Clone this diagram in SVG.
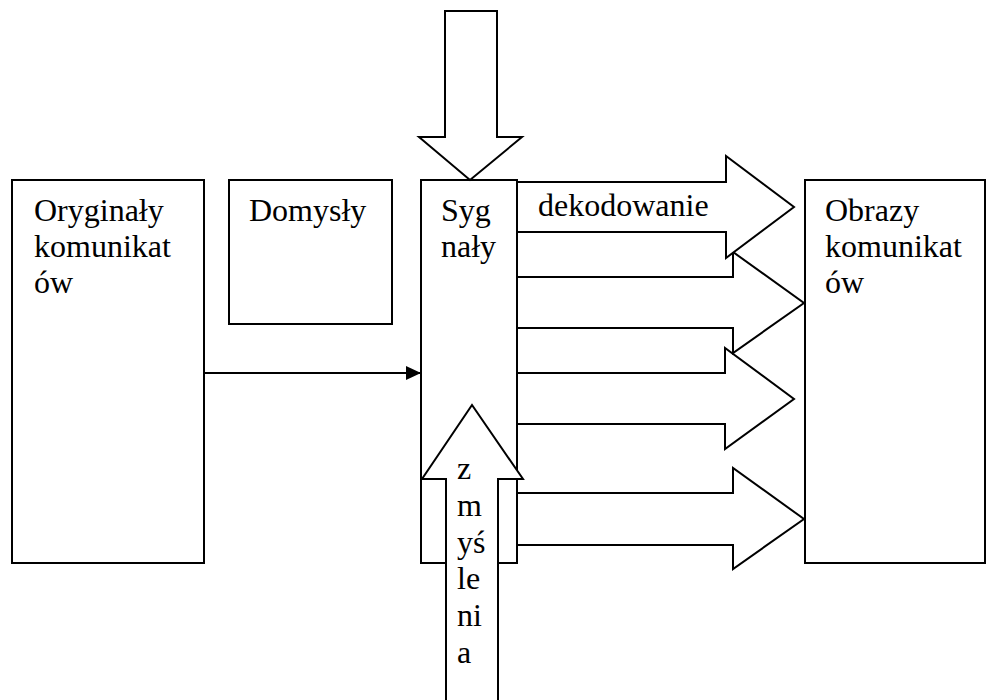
<svg xmlns="http://www.w3.org/2000/svg" width="986" height="700" viewBox="0 0 986 700">
<style>
.b{fill:#fff;stroke:#000;stroke-width:2}
.t{font-family:"Liberation Serif","Times New Roman",serif;font-size:32px;fill:#000}
</style>
<defs>
<marker id="ah" markerWidth="15" markerHeight="14" refX="15" refY="7" orient="auto" markerUnits="userSpaceOnUse">
<path d="M0,0 L15,7 L0,14 Z" fill="#000"/>
</marker>
</defs>
<rect width="986" height="700" fill="#fff"/>
<g id="oryginaly">
<rect class="b" x="12" y="180" width="192" height="383"/>
<text class="t" x="34" y="221">Oryginały</text>
<text class="t" x="34" y="257">komunikat</text>
<text class="t" x="34" y="293">ów</text>
</g>
<g id="domysly">
<rect class="b" x="229" y="180" width="163" height="144"/>
<text class="t" x="249" y="221">Domysły</text>
</g>
<g id="obrazy">
<rect class="b" x="805" y="180" width="180" height="383"/>
<text class="t" x="825" y="221">Obrazy</text>
<text class="t" x="825" y="257">komunikat</text>
<text class="t" x="825" y="293">ów</text>
</g>
<g id="sygnaly">
<rect class="b" x="421" y="180" width="96" height="383"/>
<text class="t" x="441" y="221">Syg</text>
<text class="t" x="441" y="257">nały</text>
</g>
<g id="connectors">
<line x1="204" y1="373" x2="421" y2="373" stroke="#000" stroke-width="2" marker-end="url(#ah)"/>
<polygon id="top-arrow" class="b" points="445,11 497,11 497,137 522,137 470,180 419,137 445,137"/>
<polygon id="arrow4" class="b" points="517,493 733,493 733,468 804,519 733,569 733,545 517,545"/>
<polygon id="arrow3" class="b" points="517,373 725,373 725,348 794,399 725,449 725,424 517,424"/>
<polygon id="arrow2" class="b" points="517,277 733,277 733,252 804,303 733,353 733,328 517,328"/>
<polygon id="arrow1" class="b" points="517,182 726,182 726,156 794,207 726,258 726,232 517,232"/>
<g id="zmyslenia">
<polygon class="b" points="446,702 446,479 422,479 472,405 523,479 498,479 498,702"/>
<text class="t" x="457" y="479">z</text>
<text class="t" x="457" y="516">m</text>
<text class="t" x="457" y="553">yś</text>
<text class="t" x="457" y="589">le</text>
<text class="t" x="457" y="626">ni</text>
<text class="t" x="457" y="663">a</text>
</g>
<text class="t" x="538" y="216">dekodowanie</text>
</g>
</svg>
